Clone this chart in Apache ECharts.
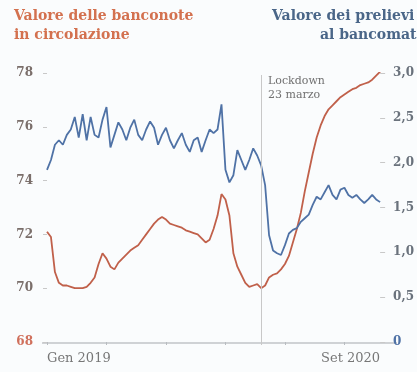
<!DOCTYPE html>
<html>
<head>
<meta charset="utf-8">
<script src="https://cdn.jsdelivr.net/npm/echarts@6/dist/echarts.min.js"></script>
<style>
html,body{margin:0;padding:0;background:#fafcfd;}
#c{width:417px;height:372px;}
</style>
</head>
<body>
<div id="c"></div>
<script>
// ---- data ----
const xTickLabels = ['Gen 2019', 'Set 2020'];
const banconote = [72.1,71.9,70.6,70.2,70.1,70.1,70.05,70.0,70.0,70.0,70.05,70.2,70.4,70.9,71.3,71.1,70.8,70.7,70.95,71.1,
71.25,71.4,71.5,71.6,71.8,72.0,72.2,72.4,72.55,72.65,72.55,72.4,72.35,72.3,72.25,72.15,72.1,72.05,72.0,71.85,
71.7,71.8,72.2,72.7,73.5,73.3,72.7,71.3,70.8,70.5,70.2,70.05,70.1,70.15,70.0,70.1,70.4,70.5,70.55,70.7,
70.9,71.2,71.7,72.2,72.8,73.6,74.3,75.0,75.6,76.05,76.4,76.65,76.8,76.95,77.1,77.2,77.3,77.4,77.45,77.55,
77.6,77.65,77.75,77.9,78.05];
const prelievi = [1.92,2.03,2.2,2.25,2.2,2.31,2.37,2.51,2.28,2.54,2.25,2.51,2.31,2.28,2.48,2.62,2.17,2.31,2.45,2.37,
2.25,2.39,2.48,2.31,2.25,2.37,2.46,2.39,2.2,2.31,2.39,2.25,2.16,2.25,2.33,2.2,2.12,2.25,2.28,2.12,
2.25,2.37,2.33,2.37,2.65,1.92,1.78,1.86,2.14,2.03,1.92,2.03,2.16,2.08,1.97,1.75,1.19,1.02,0.99,0.97,
1.08,1.21,1.25,1.27,1.34,1.38,1.42,1.53,1.62,1.59,1.67,1.75,1.64,1.59,1.7,1.72,1.64,1.61,1.64,1.59,
1.55,1.59,1.64,1.59,1.56];
const lockdownIndex = 54;
const leftTicks = {min: 68, max: 78, interval: 2};
const rightTicks = {min: 0, max: 3, interval: 0.5};

// weekly categories
const categories = [];
{
  const start = new Date(Date.UTC(2019, 0, 4));
  for (let i = 0; i < banconote.length; i++) {
    const d = new Date(start.getTime() + i * 7 * 86400000);
    categories.push(d.toISOString().slice(0, 10));
  }
}
const N = categories.length;

const RED = '#c0604a';
const BLUE = '#4f72a6';
const FONT = 'DejaVu Serif';

const chart = echarts.init(document.getElementById('c'), null, {renderer: 'canvas'});
chart.setOption({
  backgroundColor: '#fafcfd',
  animation: false,
  grid: {left: 47, right: 34, top: 73, bottom: 30, containLabel: false},
  xAxis: {
    type: 'category',
    data: categories,
    boundaryGap: false,
    axisLine: {show: false},
    axisTick: {show: true, length: 3, interval: function (i) { return i % 15 === 0; }, lineStyle: {color: '#b8bcc0'}},
    axisLabel: {
      interval: function (i) { return i === 0 || i === N - 1; },
      formatter: function (v, i) { return i === 0 ? xTickLabels[0] : xTickLabels[1]; },
      showMaxLabel: true, showMinLabel: true,
      alignMinLabel: 'left', alignMaxLabel: 'right',
      color: '#777', fontFamily: FONT, fontSize: 13, margin: 10
    },
    splitLine: {show: false}
  },
  yAxis: [
    {
      type: 'value', position: 'left',
      min: leftTicks.min, max: leftTicks.max, interval: leftTicks.interval,
      axisLine: {show: false},
      axisTick: {show: true, length: 4, inside: false, lineStyle: {color: '#c8c8c8'}},
      splitLine: {show: false},
      axisLabel: {
        margin: 14, fontFamily: FONT, fontSize: 12,
        formatter: function (v) { return v === leftTicks.min ? '{r|' + v + '}' : '{g|' + v + '}'; },
        rich: {g: {color: '#7a6e6a', fontFamily: FONT, fontSize: 12, fontWeight: 'bold'}, r: {color: '#d0705c', fontFamily: FONT, fontSize: 12, fontWeight: 'bold'}}
      }
    },
    {
      type: 'value', position: 'right',
      min: rightTicks.min, max: rightTicks.max, interval: rightTicks.interval,
      axisLine: {show: false},
      axisTick: {show: true, length: 5, lineStyle: {color: '#c8c8c8'}},
      splitLine: {show: false},
      axisLabel: {
        margin: 13, fontFamily: FONT, fontSize: 12,
        formatter: function (v) {
          const s = v === 0 ? '0' : v.toFixed(1).replace('.', ',');
          return v === 0 ? '{b|' + s + '}' : '{g|' + s + '}';
        },
        rich: {g: {color: '#6a727c', fontFamily: FONT, fontSize: 12, fontWeight: 'bold'}, b: {color: '#4f72a6', fontFamily: FONT, fontSize: 12, fontWeight: 'bold'}}
      }
    }
  ],
  graphic: [
    {type: 'text', left: 14, top: 9, style: {text: 'Valore delle banconote', fill: '#d3714f', font: 'bold 14px "DejaVu Serif"'}},
    {type: 'text', left: 14, top: 28, style: {text: 'in circolazione', fill: '#d3714f', font: 'bold 14px "DejaVu Serif"'}},
    {type: 'text', left: 272, top: 9, style: {text: 'Valore dei prelievi', fill: '#4a6688', font: 'bold 14px "DejaVu Serif"'}},
    {type: 'text', left: 320, top: 28, style: {text: 'al bancomat', fill: '#4a6688', font: 'bold 14px "DejaVu Serif"'}},
    {type: 'text', left: 268, top: 74, style: {text: 'Lockdown\n23 marzo', fill: '#707070', font: '11px "DejaVu Serif"', lineHeight: 14}},
    {type: 'line', shape: {x1: 42, y1: 343, x2: 397, y2: 343}, style: {stroke: '#cfd2d5', lineWidth: 2}, z: -1}
  ],
  series: [
    {
      name: 'Banconote', type: 'line', yAxisIndex: 0, data: banconote,
      symbol: 'none', smooth: false,
      lineStyle: {color: RED, width: 1.8},
      markLine: {
        silent: true, symbol: 'none', label: {show: false},
        lineStyle: {color: '#c8c8c8', type: 'solid', width: 1},
        data: [[{xAxis: lockdownIndex, y: 75}, {xAxis: lockdownIndex, y: 345}]]
      }
    },
    {
      name: 'Prelievi', type: 'line', yAxisIndex: 1, data: prelievi,
      symbol: 'none', smooth: false,
      lineStyle: {color: BLUE, width: 1.8}
    }
  ]
});
</script>
</body>
</html>
